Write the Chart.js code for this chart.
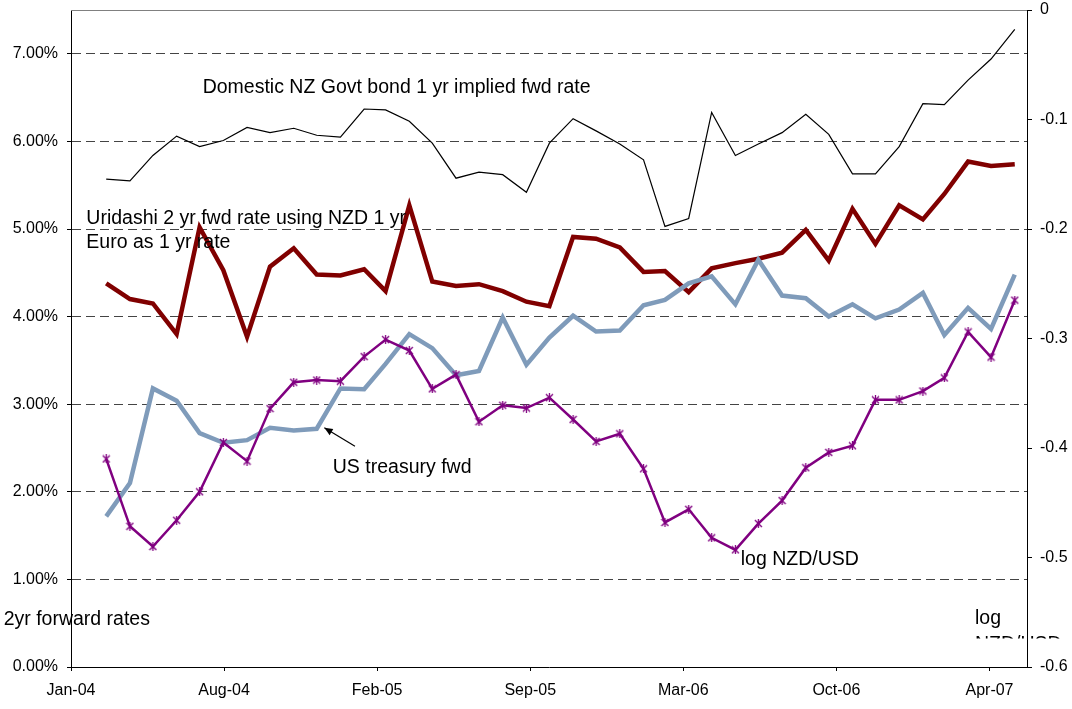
<!DOCTYPE html>
<html>
<head>
<meta charset="utf-8">
<script src="https://cdn.jsdelivr.net/npm/chart.js@4/dist/chart.umd.min.js"></script>
<style>
  body { margin: 0; background: #fff; }
</style>
</head>
<body>
<canvas id="fwdChart" width="1072" height="709"></canvas>
<script>
// monthly observations
var months = [
  '2004-03','2004-04','2004-05','2004-06','2004-07','2004-08','2004-09','2004-10','2004-11','2004-12',
  '2005-01','2005-02','2005-03','2005-04','2005-05','2005-06','2005-07','2005-08','2005-09','2005-10',
  '2005-11','2005-12','2006-01','2006-02','2006-03','2006-04','2006-05','2006-06','2006-07','2006-08',
  '2006-09','2006-10','2006-11','2006-12','2007-01','2007-02','2007-03','2007-04','2007-05','2007-06'
];

// left axis, percent
var nzGovt = [5.57,5.55,5.84,6.06,5.94,6.01,6.16,6.10,6.15,6.07,
              6.05,6.37,6.36,6.23,5.98,5.58,5.65,5.62,5.42,5.98,
              6.26,6.12,5.97,5.79,5.03,5.12,6.33,5.84,5.97,6.10,
              6.31,6.08,5.63,5.63,5.94,6.43,6.42,6.70,6.94,7.28];
var uridashi = [4.38,4.20,4.15,3.80,5.02,4.53,3.77,4.57,4.78,4.48,
                4.47,4.54,4.29,5.27,4.40,4.35,4.37,4.29,4.17,4.12,
                4.91,4.89,4.79,4.51,4.52,4.28,4.55,4.61,4.66,4.73,
                4.99,4.64,5.23,4.83,5.27,5.11,5.40,5.77,5.72,5.74];
var usFwd = [1.72,2.10,3.18,3.04,2.67,2.56,2.59,2.73,2.70,2.72,
             3.18,3.17,3.46,3.80,3.64,3.33,3.38,3.99,3.45,3.76,
             4.01,3.83,3.84,4.13,4.19,4.38,4.46,4.14,4.65,4.24,
             4.21,4.00,4.14,3.98,4.08,4.27,3.79,4.10,3.86,4.48];
// right axis
var logNzdUsd = [-0.410,-0.4715,-0.490,-0.466,-0.440,-0.395,-0.412,-0.364,-0.340,-0.338,
                 -0.339,-0.3165,-0.301,-0.311,-0.346,-0.333,-0.376,-0.361,-0.3635,-0.354,
                 -0.374,-0.394,-0.387,-0.419,-0.468,-0.456,-0.482,-0.493,-0.469,-0.448,
                 -0.418,-0.404,-0.398,-0.356,-0.356,-0.348,-0.336,-0.294,-0.317,-0.265];

var xTickLabels = ['Jan-04','Aug-04','Feb-05','Sep-05','Mar-06','Oct-06','Apr-07'];
var leftTicks = [0,1,2,3,4,5,6,7];
var rightTicks = [-0.6,-0.5,-0.4,-0.3,-0.2,-0.1,0];

// date axis: days since 1 Jan 2004, ticks every 200 days from 15 Jan 2004
var X_START = 14, X_STEP = 200, X_END = 1263;

function dayOf(m) {
  var p = m.split('-');
  return (Date.UTC(+p[0], +p[1] - 1, 1) - Date.UTC(2004, 0, 1)) / 86400000;
}
function pts(vals) {
  return vals.map(function(v, i) { return {x: dayOf(months[i]), y: v}; });
}

function starMarker(color) {
  var c = document.createElement('canvas');
  c.width = 9; c.height = 9;
  var g = c.getContext('2d');
  g.strokeStyle = color;
  g.lineWidth = 1.3;
  g.beginPath();
  g.moveTo(1, 1); g.lineTo(8, 8);
  g.moveTo(8, 1); g.lineTo(1, 8);
  g.moveTo(4.5, 0); g.lineTo(4.5, 9);
  g.stroke();
  return c;
}

// text boxes, in data units of x and left axis
var notes = [
  {text: 'Domestic NZ Govt bond 1 yr implied fwd rate', x: 186, y: 6.61},
  {text: 'Uridashi 2 yr fwd rate using NZD 1 yr', x: 34, y: 5.12},
  {text: 'Euro as 1 yr rate', x: 34, y: 4.85},
  {text: 'US treasury fwd', x: 356, y: 2.28},
  {text: 'log NZD/USD', x: 889, y: 1.23},
  {text: '2yr forward rates', x: -74, y: 0.54},
  {text: 'log', x: 1195, y: 0.55},
  {text: 'NZD/USD', x: 1195, y: 0.26, clipAt: 0.325}
];
var arrow = {from: {x: 385, y: 2.52}, to: {x: 345, y: 2.73}};

var notesPlugin = {
  id: 'notes',
  afterDatasetsDraw: function(chart) {
    var ctx = chart.ctx, xs = chart.scales.x, ys = chart.scales.y, a = chart.chartArea;
    ctx.save();
    // top border of plot
    ctx.strokeStyle = '#808080';
    ctx.lineWidth = 1;
    ctx.beginPath();
    ctx.moveTo(a.left, a.top + 0.5);
    ctx.lineTo(a.right, a.top + 0.5);
    ctx.stroke();

    ctx.fillStyle = '#000';
    ctx.font = '19.5px "Liberation Sans", Arial, sans-serif';
    ctx.textAlign = 'left';
    ctx.textBaseline = 'middle';
    notes.forEach(function(n) {
      var px = xs.getPixelForValue(n.x), py = ys.getPixelForValue(n.y);
      ctx.save();
      if (n.clipAt !== undefined) {
        ctx.beginPath();
        ctx.rect(0, 0, chart.width, ys.getPixelForValue(n.clipAt));
        ctx.clip();
      }
      ctx.fillText(n.text, px, py);
      ctx.restore();
    });

    var x1 = xs.getPixelForValue(arrow.from.x), y1 = ys.getPixelForValue(arrow.from.y);
    var x2 = xs.getPixelForValue(arrow.to.x), y2 = ys.getPixelForValue(arrow.to.y);
    var ang = Math.atan2(y2 - y1, x2 - x1);
    ctx.strokeStyle = '#000';
    ctx.lineWidth = 1.2;
    ctx.beginPath();
    ctx.moveTo(x1, y1);
    ctx.lineTo(x2, y2);
    ctx.stroke();
    ctx.beginPath();
    ctx.moveTo(x2, y2);
    ctx.lineTo(x2 - 9 * Math.cos(ang - 0.4), y2 - 9 * Math.sin(ang - 0.4));
    ctx.lineTo(x2 - 9 * Math.cos(ang + 0.4), y2 - 9 * Math.sin(ang + 0.4));
    ctx.closePath();
    ctx.fill();
    ctx.restore();
  }
};

Chart.defaults.font.family = '"Liberation Sans", Arial, sans-serif';
Chart.defaults.font.size = 16;
Chart.defaults.color = '#000';

new Chart(document.getElementById('fwdChart').getContext('2d'), {
  type: 'line',
  data: {
    datasets: [
      {
        label: 'log NZD/USD',
        data: pts(logNzdUsd),
        yAxisID: 'y2',
        borderColor: '#800080',
        borderWidth: 2.5,
        pointStyle: starMarker('#800080'),
        pointRadius: 4,
        order: 0
      },
      {
        label: 'US treasury fwd',
        data: pts(usFwd),
        yAxisID: 'y',
        borderColor: '#7f9bba',
        borderWidth: 4.5,
        pointRadius: 0,
        order: 1
      },
      {
        label: 'Uridashi 2 yr fwd rate',
        data: pts(uridashi),
        yAxisID: 'y',
        borderColor: '#800000',
        borderWidth: 4.5,
        pointRadius: 0,
        order: 2
      },
      {
        label: 'Domestic NZ Govt bond 1 yr implied fwd rate',
        data: pts(nzGovt),
        yAxisID: 'y',
        borderColor: '#000',
        borderWidth: 1.2,
        pointRadius: 0,
        order: 3
      }
    ]
  },
  options: {
    responsive: false,
    animation: false,
    layout: { padding: { top: 10 } },
    plugins: { legend: { display: false }, tooltip: { enabled: false } },
    elements: { line: { tension: 0, fill: false } },
    scales: {
      x: {
        type: 'linear',
        min: X_START,
        max: X_END,
        afterBuildTicks: function(s) {
          s.ticks = xTickLabels.map(function(l, i) { return {value: X_START + i * X_STEP}; });
        },
        afterFit: function(s) { s.height = 42; },
        ticks: {
          autoSkip: false,
          maxRotation: 0,
          padding: 10,
          callback: function(v, i) { return xTickLabels[i]; }
        },
        grid: { drawOnChartArea: false, tickLength: 4, tickColor: '#000' },
        border: { color: '#000', width: 1 }
      },
      y: {
        position: 'left',
        min: 0,
        max: 7.5,
        afterBuildTicks: function(s) {
          s.ticks = leftTicks.map(function(v) { return {value: v}; });
        },
        afterFit: function(s) { s.width = 71; s.paddingTop = 0; s.paddingBottom = 0; },
        ticks: {
          padding: 9,
          callback: function(v) { return v.toFixed(2) + '%'; }
        },
        grid: {
          color: function(c) { return c.tick && c.tick.value === 0 ? 'rgba(0,0,0,0)' : '#444'; },
          borderDash: [9, 5],
          tickBorderDash: [],
          tickColor: '#000',
          tickLength: 4
        },
        border: { color: '#000', width: 1, dash: [9, 5] }
      },
      y2: {
        position: 'right',
        min: -0.6,
        max: 0,
        afterBuildTicks: function(s) {
          s.ticks = rightTicks.map(function(v) { return {value: v}; });
        },
        afterFit: function(s) { s.width = 45; s.paddingTop = 0; s.paddingBottom = 0; },
        ticks: {
          padding: 8,
          callback: function(v) { return v === 0 ? '0' : v.toFixed(1); }
        },
        grid: { drawOnChartArea: false, tickLength: 5, tickColor: '#000' },
        border: { color: '#000', width: 1 }
      }
    }
  },
  plugins: [notesPlugin]
});
</script>
</body>
</html>
